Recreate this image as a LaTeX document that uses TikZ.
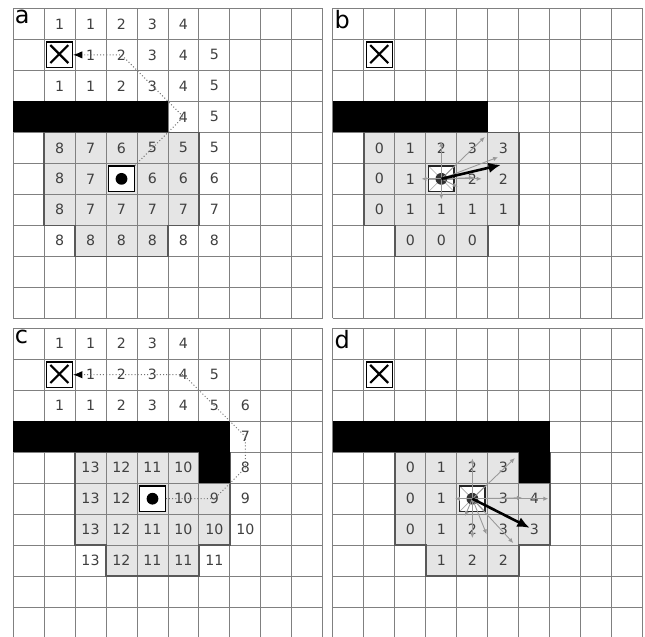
\documentclass[tikz,border=0pt]{standalone}
\usepackage{fontspec}
\setmainfont{DejaVu Sans}
\usetikzlibrary{arrows.meta}
\tikzset{
    linha/.style={draw=black!50, line width=0.9pt},
    regiao/.style={fill=black!10},
    contorno/.style={draw=black!65, line width=1.3pt},
    obstaculo/.style={fill=black},
    numero/.style={text=black!75, inner sep=0pt, font=\fontsize{13}{13}\selectfont},
    rotulo/.style={anchor=north west, inner sep=1.5pt, font=\fontsize{22}{22}\selectfont},
    robo/.style={
        rectangle,
        draw=black,
        line width=1.2pt,
        fill=white,
        minimum size=0.82cm,
        inner sep=0pt,
        path picture={\fill[black] (path picture bounding box.center) circle (0.19);}
    },
    robocampo/.style={
        rectangle,
        draw=black!85,
        line width=1.2pt,
        fill=white,
        minimum size=0.82cm,
        inner sep=0pt,
        path picture={
            \foreach \ang in {0,45,...,315}
                \draw[black!35, line width=0.6pt] (path picture bounding box.center) -- ++(\ang:0.6);
            \fill[black!80] (path picture bounding box.center) circle (0.19);
        }
    },
    alvo/.style={
        rectangle,
        draw=black,
        line width=1.2pt,
        fill=white,
        minimum size=0.83cm,
        inner sep=0pt,
        path picture={
            \draw[line width=2pt]
                ([shift={(0.12,0.15)}]path picture bounding box.south west)
                -- ([shift={(-0.13,-0.1)}]path picture bounding box.north east);
            \draw[line width=2pt]
                ([shift={(0.12,-0.1)}]path picture bounding box.north west)
                -- ([shift={(-0.13,0.15)}]path picture bounding box.south east);
        }
    },
    caminho/.style={draw=black!55, dotted, line width=0.9pt,
        -{Latex[length=3mm,width=2.4mm,color=black]}},
    raio/.style={draw=black!40, line width=0.8pt, -{Latex[length=1.6mm,width=1.4mm]}},
    vetor/.style={draw=black, line width=2.4pt, -{Latex[length=4mm,width=3.4mm]}}
}

\begin{document}
\begin{tikzpicture}
    \fill[white] (0,0) rectangle (20.81,-20.52);
    \clip[use as bounding box] (0,0) rectangle (20.81,-20.52);

    % a: campo de distancias ao alvo
    \begin{scope}[shift={(0.42,-0.27)}]
        \fill[regiao] (1,-4) -- (6,-4) -- (6,-7) -- (5,-7) -- (5,-8) -- (2,-8) -- (2,-7) -- (1,-7) -- cycle;
        \draw[linha] (0,0) grid (10,-10);
        \draw[contorno] (1,-4) -- (6,-4) -- (6,-7) -- (5,-7) -- (5,-8) -- (2,-8) -- (2,-7) -- (1,-7) -- cycle;
        \fill[obstaculo] (0,-3) rectangle (5,-4);
        \node[rotulo] (a-rot) at (0,0) {a};
        \foreach \r/\c/\v in {0/1/1,0/2/1,0/3/2,0/4/3,0/5/4,
                1/2/1,1/3/2,1/4/3,1/5/4,1/6/5,
                2/1/1,2/2/1,2/3/2,2/4/3,2/5/4,2/6/5,
                3/5/4,3/6/5,
                4/1/8,4/2/7,4/3/6,4/4/5,4/5/5,4/6/5,
                5/1/8,5/2/7,5/4/6,5/5/6,5/6/6,
                6/1/8,6/2/7,6/3/7,6/4/7,6/5/7,6/6/7,
                7/1/8,7/2/8,7/3/8,7/4/8,7/5/8,7/6/8}
            \node[numero] (a-\r-\c) at (\c+0.5,-\r-0.5) {\v};
        \node[alvo] (a-alvo) at (1.5,-1.5) {};
        \node[robo] (a-rob) at (3.5,-5.5) {};
        \draw[caminho] (a-rob) -- (a-3-5.center) -- (a-1-3.center) -- (a-alvo);
    \end{scope}

    % b: gradiente local
    \begin{scope}[shift={(10.74,-0.27)}]
        \fill[regiao] (1,-4) -- (6,-4) -- (6,-7) -- (5,-7) -- (5,-8) -- (2,-8) -- (2,-7) -- (1,-7) -- cycle;
        \draw[linha] (0,0) grid (10,-10);
        \draw[contorno] (1,-4) -- (6,-4) -- (6,-7) -- (5,-7) -- (5,-8) -- (2,-8) -- (2,-7) -- (1,-7) -- cycle;
        \fill[obstaculo] (0,-3) rectangle (5,-4);
        \node[rotulo] (b-rot) at (0,0) {b};
        \foreach \r/\c/\v in {4/1/0,4/2/1,4/3/2,4/4/3,4/5/3,
                5/1/0,5/2/1,5/4/2,5/5/2,
                6/1/0,6/2/1,6/3/1,6/4/1,6/5/1,
                7/2/0,7/3/0,7/4/0}
            \node[numero] (b-\r-\c) at (\c+0.5,-\r-0.5) {\v};
        \node[alvo] (b-alvo) at (1.5,-1.5) {};
        \node[robocampo] (b-rob) at (3.5,-5.5) {};
        \foreach \n/\dx/\dy in {1/0/1.2, 2/1.4/1.35, 3/1.83/0.7, 4/1.3/0, 5/1.05/0.04,
                6/-0.64/0, 7/0/-0.66, 8/0.53/-0.26} {
            \coordinate (b-p\n) at (3.5+\dx,-5.5+\dy);
            \draw[raio] (b-rob.center) -- (b-p\n);
        }
        \coordinate (b-dir) at (5.42,-5.05);
        \draw[vetor] (b-rob.center) -- (b-dir);
    \end{scope}

    % c: caminho em volta do obstaculo
    \begin{scope}[shift={(0.42,-10.59)}]
        \fill[regiao] (2,-4) -- (7,-4) -- (7,-7) -- (6,-7) -- (6,-8) -- (3,-8) -- (3,-7) -- (2,-7) -- cycle;
        \draw[linha] (0,0) grid (10,-10);
        \draw[contorno] (2,-4) -- (7,-4) -- (7,-7) -- (6,-7) -- (6,-8) -- (3,-8) -- (3,-7) -- (2,-7) -- cycle;
        \fill[obstaculo] (0,-3) rectangle (7,-4);
        \fill[obstaculo] (6,-4) rectangle (7,-5);
        \node[rotulo] (c-rot) at (0,0) {c};
        \foreach \r/\c/\v in {0/1/1,0/2/1,0/3/2,0/4/3,0/5/4,
                1/2/1,1/3/2,1/4/3,1/5/4,1/6/5,
                2/1/1,2/2/1,2/3/2,2/4/3,2/5/4,2/6/5,2/7/6,
                3/7/7,
                4/2/13,4/3/12,4/4/11,4/5/10,4/7/8,
                5/2/13,5/3/12,5/5/10,5/6/9,5/7/9,
                6/2/13,6/3/12,6/4/11,6/5/10,6/6/10,6/7/10,
                7/2/13,7/3/12,7/4/11,7/5/11,7/6/11}
            \node[numero] (c-\r-\c) at (\c+0.5,-\r-0.5) {\v};
        \node[alvo] (c-alvo) at (1.5,-1.5) {};
        \node[robo] (c-rob) at (4.5,-5.5) {};
        \draw[caminho] (c-rob) -- (c-5-6.center) -- (c-4-7.center) -- (c-3-7.center)
            -- (c-1-5.center) -- (c-alvo);
    \end{scope}

    % d: gradiente local junto ao canto
    \begin{scope}[shift={(10.74,-10.59)}]
        \fill[regiao] (2,-4) -- (7,-4) -- (7,-7) -- (6,-7) -- (6,-8) -- (3,-8) -- (3,-7) -- (2,-7) -- cycle;
        \draw[linha] (0,0) grid (10,-10);
        \draw[contorno] (2,-4) -- (7,-4) -- (7,-7) -- (6,-7) -- (6,-8) -- (3,-8) -- (3,-7) -- (2,-7) -- cycle;
        \fill[obstaculo] (0,-3) rectangle (7,-4);
        \fill[obstaculo] (6,-4) rectangle (7,-5);
        \node[rotulo] (d-rot) at (0,0) {d};
        \foreach \r/\c/\v in {4/2/0,4/3/1,4/4/2,4/5/3,
                5/2/0,5/3/1,5/5/3,5/6/4,
                6/2/0,6/3/1,6/4/2,6/5/3,6/6/3,
                7/3/1,7/4/2,7/5/2}
            \node[numero] (d-\r-\c) at (\c+0.5,-\r-0.5) {\v};
        \node[alvo] (d-alvo) at (1.5,-1.5) {};
        \node[robocampo] (d-rob) at (4.5,-5.5) {};
        \foreach \n/\dx/\dy in {1/0/1.3, 2/1.37/1.31, 3/2.45/0, 4/1.6/0.03, 5/-0.56/0,
                6/0/-1.27, 7/0.46/-1.15, 8/1.32/-1.43, 9/-0.24/-0.56} {
            \coordinate (d-p\n) at (4.5+\dx,-5.5+\dy);
            \draw[raio] (d-rob.center) -- (d-p\n);
        }
        \coordinate (d-dir) at (6.35,-6.44);
        \draw[vetor] (d-rob.center) -- (d-dir);
    \end{scope}
\end{tikzpicture}
\end{document}
